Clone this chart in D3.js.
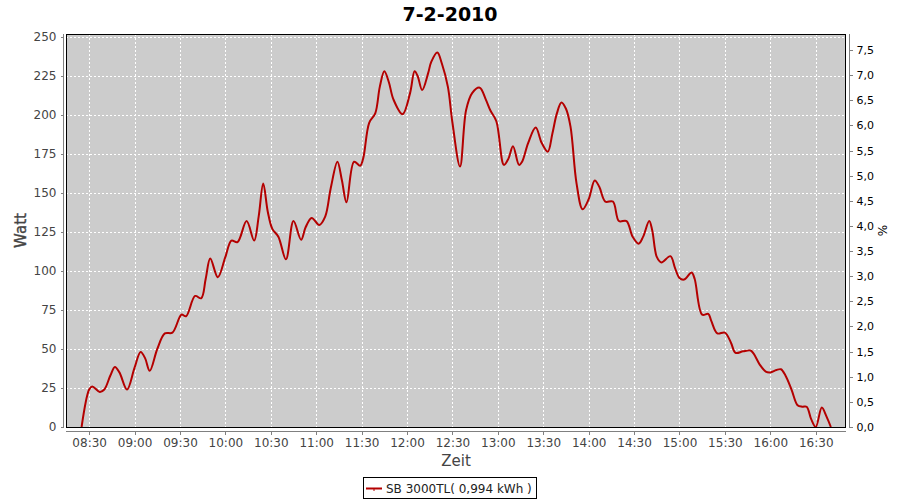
<!DOCTYPE html>
<html>
<head>
<meta charset="utf-8">
<script src="https://cdn.jsdelivr.net/npm/d3@7/dist/d3.min.js"></script>
<style>
  html, body { margin: 0; padding: 0; background: #ffffff; }
  svg { display: block; }
  text { font-family: "DejaVu Sans", sans-serif; }
</style>
</head>
<body>
<svg id="chart" width="900" height="500"></svg>
<script>
// ---- data ----
const title = "7-2-2010";
const seriesName = "SB 3000TL( 0,994 kWh )";
const times = ["08:25","08:30","08:32","08:37","08:40","08:44","08:47","08:50","08:55","09:00",
  "09:04","09:07","09:10","09:15","09:20","09:25","09:31","09:34","09:40","09:44",
  "09:47","09:50","09:55","10:00","10:04","10:08","10:14","10:19","10:22","10:25",
  "10:28","10:31","10:35","10:40","10:45","10:50","10:53","10:57","11:02","11:06",
  "11:09","11:10","11:14","11:17","11:20","11:25","11:29","11:31","11:35","11:39",
  "11:42","11:45","11:48","11:51","11:57","12:02","12:05","12:07","12:10","12:14",
  "12:16","12:20","12:23","12:27","12:30","12:35","12:39","12:43","12:48","12:52",
  "12:55","12:59","13:04","13:07","13:10","13:14","13:16","13:20","13:25","13:29",
  "13:33","13:36","13:39","13:42","13:45","13:48","13:52","13:56","14:00","14:04",
  "14:07","14:11","14:16","14:20","14:25","14:29","14:33","14:36","14:40","14:42",
  "14:45","14:48","14:54","14:57","15:00","15:03","15:08","15:10","15:15","15:19",
  "15:21","15:25","15:30","15:34","15:37","15:42","15:47","15:49","15:53","15:57",
  "16:00","16:04","16:07","16:10","16:14","16:18","16:21","16:24","16:27","16:30",
  "16:34","16:37","16:40"];
const watt = [0,24,26,22.5,24,33,38.5,35,24,38,
  48,44,36,50,60,60.5,72,71,84,82.5,
  95,108,96,109,119.5,118.5,132,119.5,135,156,
  138,127,122,107.5,132,120,128,134,129.5,135,
  150,155,170,158,144,170,167.5,172,195,201,
  218,228,221,210,200.5,214,228,225,216,227,
  234,240,233,218,195,167,203,214,217.5,210,
  203,196,168,172,180,168,170,182,192,182,
  176.5,188,201,208,204,192.5,156,139.5,146,158,
  154,144.5,144.5,132,132,122,117.5,122,132,126,
  109,105.5,109.5,102,95.5,94.5,99,95,72,72.5,
  68,60,60.5,54,47.5,48.5,49,47,40,35.5,
  35,36.5,37,33,24,14,13,13,5,0,
  12.5,7,0];
const xTickLabels = ["08:30","09:00","09:30","10:00","10:30","11:00","11:30","12:00","12:30",
  "13:00","13:30","14:00","14:30","15:00","15:30","16:00","16:30"];
const leftTicks = [0,25,50,75,100,125,150,175,200,225,250];
const rightTicks = [0,0.5,1,1.5,2,2.5,3,3.5,4,4.5,5,5.5,6,6.5,7,7.5];

// ---- helpers ----
const toMin = s => { const [h, m] = s.split(":").map(Number); return h * 60 + m; };
const pts = times.map((t, i) => ({ x: toMin(t), y: watt[i] }));

// ---- layout ----
const plot = { left: 66, right: 846, top: 34, bottom: 427 };
const svg = d3.select("#chart");
svg.append("rect").attr("width", 900).attr("height", 500).attr("fill", "#ffffff");

const x = d3.scaleLinear().domain([494.7, 1010]).range([plot.left, plot.right]);
const y = d3.scaleLinear().domain([0, 251.9]).range([plot.bottom, plot.top]);
const yR = d3.scaleLinear().domain([0, 7.818]).range([plot.bottom, plot.top]);

// Title
svg.append("text").attr("x", 450).attr("y", 21).attr("text-anchor", "middle")
  .attr("font-size", 19).attr("font-weight", "bold").attr("fill", "#000").text(title);

// Plot background
svg.append("rect").attr("x", plot.left).attr("y", plot.top)
  .attr("width", plot.right - plot.left).attr("height", plot.bottom - plot.top)
  .attr("fill", "#cccccc");

// Grid lines
const grid = svg.append("g").attr("stroke", "#ffffff").attr("stroke-width", 1)
  .attr("stroke-dasharray", "2,2").attr("shape-rendering", "crispEdges");
xTickLabels.forEach(t => {
  const px = Math.round(x(toMin(t))) + 0.5;
  grid.append("line").attr("x1", px).attr("x2", px).attr("y1", plot.top).attr("y2", plot.bottom);
});
leftTicks.forEach(v => {
  const py = Math.round(y(v)) + 0.5;
  grid.append("line").attr("x1", plot.left).attr("x2", plot.right).attr("y1", py).attr("y2", py);
});

// Series line
const clipId = "plotclip";
svg.append("clipPath").attr("id", clipId).append("rect")
  .attr("x", plot.left).attr("y", plot.top)
  .attr("width", plot.right - plot.left).attr("height", plot.bottom - plot.top);
const line = d3.line().x(d => x(d.x)).y(d => y(d.y)).curve(d3.curveCatmullRom.alpha(0.5));
svg.append("path").datum(pts).attr("d", line).attr("fill", "none")
  .attr("stroke", "#b40000").attr("stroke-width", 2).attr("stroke-linejoin", "round")
  .attr("clip-path", `url(#${clipId})`);

// Plot border
svg.append("rect").attr("x", plot.left + 0.5).attr("y", plot.top + 0.5)
  .attr("width", plot.right - plot.left - 1).attr("height", plot.bottom - plot.top)
  .attr("fill", "none").attr("stroke", "#000").attr("stroke-width", 1)
  .attr("shape-rendering", "crispEdges");

const axisColor = "#808080";
const labelColor = "#444444";

// Left axis
const yAxis = d3.axisLeft(y).tickValues(leftTicks).tickSize(3).tickPadding(4).tickFormat(d3.format("d"));
const gL = svg.append("g").attr("transform", "translate(63.5,0)").call(yAxis);
gL.select(".domain").attr("d", `M0,${plot.top}V${plot.bottom + 0.5}`);
// Bottom axis
const xAxis = d3.axisBottom(x).tickValues(xTickLabels.map(toMin)).tickSize(3).tickPadding(4)
  .tickFormat((d, i) => xTickLabels[i]);
const gB = svg.append("g").attr("transform", "translate(0,431.5)").call(xAxis);
gB.select(".domain").attr("d", `M${plot.left},0H${plot.right}`);
// Right axis
const yRAxis = d3.axisRight(yR).tickValues(rightTicks).tickSize(3).tickPadding(4)
  .tickFormat(d => d3.format(".1f")(d).replace(".", ","));
const gR = svg.append("g").attr("transform", "translate(849.5,0)").call(yRAxis);
gR.select(".domain").attr("d", `M0,${plot.top}V${plot.bottom + 0.5}`);

[gL, gB, gR].forEach(g => {
  g.selectAll(".domain").attr("stroke", axisColor).attr("shape-rendering", "crispEdges");
  g.selectAll(".tick line").attr("stroke", axisColor).attr("shape-rendering", "crispEdges");
  g.selectAll(".tick text").attr("fill", labelColor).attr("font-size", 12)
    .attr("font-family", "DejaVu Sans, sans-serif");
});
gR.selectAll(".tick text").attr("font-size", 11).attr("fill", "#000");

// Axis titles
svg.append("text").attr("transform", `translate(26,${(plot.top + plot.bottom) / 2}) rotate(-90)`)
  .attr("text-anchor", "middle").attr("font-size", 15)
  .attr("fill", labelColor).attr("stroke", labelColor).attr("stroke-width", 0.4).text("Watt");
svg.append("text").attr("x", (plot.left + plot.right) / 2).attr("y", 466)
  .attr("text-anchor", "middle").attr("font-size", 15).attr("fill", labelColor).text("Zeit");
svg.append("text").attr("transform", `translate(887,${(plot.top + plot.bottom) / 2}) rotate(-90)`)
  .attr("text-anchor", "middle").attr("font-size", 12).attr("fill", "#000").text("%");

// Legend
const lg = svg.append("g");
lg.append("rect").attr("x", 363.5).attr("y", 477.5).attr("width", 173).attr("height", 21)
  .attr("fill", "#fff").attr("stroke", "#000").attr("stroke-width", 1);
lg.append("line").attr("x1", 366).attr("x2", 382).attr("y1", 488.5).attr("y2", 488.5)
  .attr("stroke", "#b40000").attr("stroke-width", 2);
lg.append("line").attr("x1", 374).attr("x2", 374).attr("y1", 488).attr("y2", 491)
  .attr("stroke", "#b40000").attr("stroke-width", 1);
lg.append("text").attr("x", 386).attr("y", 492.5).attr("font-size", 12).attr("fill", "#222")
  .text(seriesName);
</script>
</body>
</html>
